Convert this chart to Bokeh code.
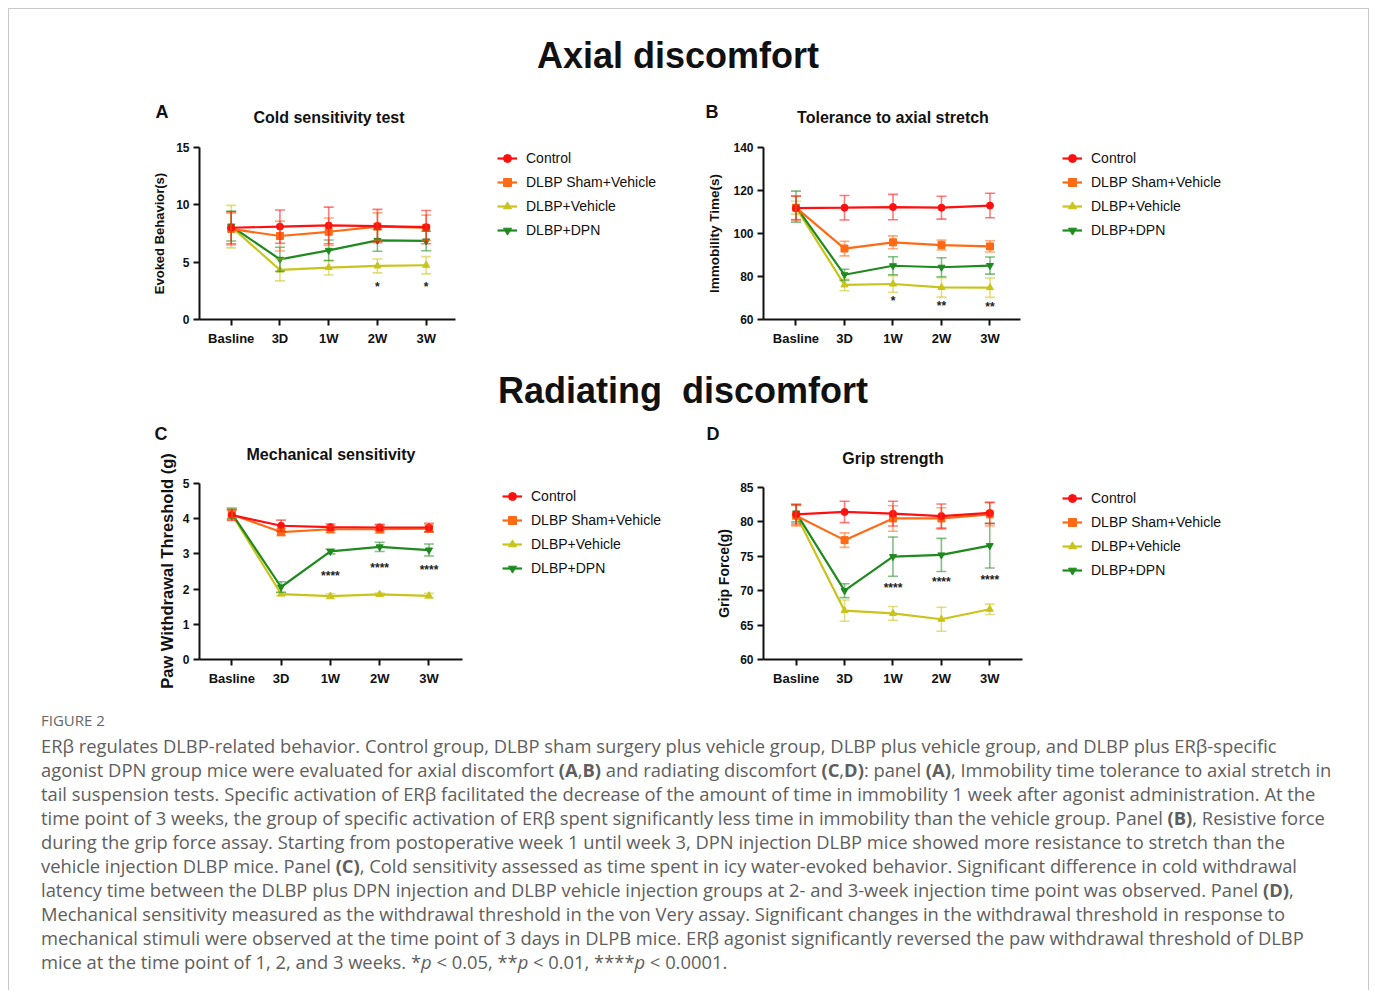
from bokeh.plotting import figure
from bokeh.models import (ColumnDataSource, Range1d, Legend, LegendItem,
                          Whisker, TeeHead, Div, FixedTicker)
from bokeh.layouts import column, row
from bokeh.core.properties import value
from bokeh.embed import file_html
from bokeh.resources import INLINE

# ---------------- data ----------------
timepoints = ["Basline", "3D", "1W", "2W", "3W"]
groups = ["Control", "DLBP Sham+Vehicle", "DLBP+Vehicle", "DLBP+DPN"]

# Panel A: Cold sensitivity test (mean, sem)
a_control = [8.0, 8.1, 8.2, 8.15, 8.05]
a_control_sem = [1.4, 1.45, 1.6, 1.45, 1.45]
a_sham = [7.9, 7.28, 7.65, 8.1, 8.0]
a_sham_sem = [1.4, 1.3, 1.2, 1.2, 1.1]
a_vehicle = [8.1, 4.32, 4.53, 4.67, 4.73]
a_vehicle_sem = [1.85, 0.95, 0.65, 0.6, 0.75]
a_dpn = [8.15, 5.25, 6.03, 6.9, 6.85]
a_dpn_sem = [1.3, 1.05, 0.9, 0.95, 0.85]
a_stars = ["", "", "", "*", "*"]
a_star_y = [0, 0, 0, 2.8, 2.8]

# Panel B: Tolerance to axial stretch
b_control = [111.8, 112.0, 112.3, 112.0, 113.0]
b_control_sem = [5.5, 5.7, 5.9, 5.3, 5.7]
b_sham = [112.0, 93.0, 95.9, 94.6, 94.0]
b_sham_sem = [5.5, 3.4, 3.0, 2.3, 2.6]
b_vehicle = [112.0, 76.1, 76.5, 74.9, 74.8]
b_vehicle_sem = [3.0, 2.7, 3.9, 4.5, 4.5]
b_dpn = [112.5, 80.8, 85.0, 84.3, 85.1]
b_dpn_sem = [7.2, 2.6, 4.2, 4.4, 4.0]
b_stars = ["", "", "*", "**", "**"]
b_star_y = [0, 0, 68.8, 66.3, 65.7]

# Panel C: Mechanical sensitivity
c_control = [4.1, 3.8, 3.76, 3.75, 3.75]
c_control_sem = [0.15, 0.16, 0.09, 0.09, 0.12]
c_sham = [4.12, 3.62, 3.7, 3.7, 3.72]
c_sham_sem = [0.15, 0.1, 0.1, 0.11, 0.1]
c_vehicle = [4.13, 1.86, 1.8, 1.85, 1.81]
c_vehicle_sem = [0.12, 0.04, 0.07, 0.04, 0.07]
c_dpn = [4.15, 2.06, 3.07, 3.2, 3.11]
c_dpn_sem = [0.15, 0.15, 0.07, 0.13, 0.17]
c_stars = ["", "", "****", "****", "****"]
c_star_y = [0, 0, 2.36, 2.6, 2.53]

# Panel D: Grip strength
d_control = [81.1, 81.45, 81.2, 80.85, 81.3]
d_control_sem = [1.4, 1.55, 1.8, 1.75, 1.55]
d_sham = [80.9, 77.35, 80.5, 80.5, 81.1]
d_sham_sem = [1.5, 1.05, 1.85, 1.55, 1.7]
d_vehicle = [81.0, 67.1, 66.7, 65.85, 67.3]
d_vehicle_sem = [1.5, 1.55, 1.0, 1.75, 0.75]
d_dpn = [81.3, 70.0, 74.95, 75.2, 76.55]
d_dpn_sem = [1.3, 1.0, 2.85, 2.4, 3.25]
d_stars = ["", "", "****", "****", "****"]
d_star_y = [0, 0, 70.4, 71.2, 71.6]

# ---------------- styling ----------------
FONT = "Liberation Sans"
colors = ["#ff1010", "#ff6a14", "#c8c41c", "#1f8a1f"]
markers = ["circle", "square", "triangle", "inverted_triangle"]
draw_order = [2, 3, 1, 0]


def make_panel(ylabel, ylabel_size, ylabel_standoff, ylim, yticks, x0, spacing,
               axis_end, series, sems, stars, star_y, width, height, borders,
               legend_x, legend_y):
    left, right, top, bottom = borders
    frame_w = width - left - right
    p = figure(width=width, height=height, output_backend="svg",
               toolbar_location=None,
               x_range=Range1d(x0, x0 + frame_w / spacing),
               y_range=Range1d(*ylim),
               min_border_left=left, min_border_right=right,
               min_border_top=top, min_border_bottom=bottom)
    p.outline_line_color = None
    p.xgrid.visible = False
    p.ygrid.visible = False
    p.background_fill_color = "white"
    p.border_fill_color = "white"

    for ax in (p.xaxis[0], p.yaxis[0]):
        ax.axis_line_width = 2
        ax.major_tick_line_width = 2
        ax.major_tick_out = 6
        ax.major_tick_in = 0
        ax.minor_tick_out = 0
        ax.minor_tick_in = 0
        ax.major_label_text_font = FONT
        ax.major_label_text_font_style = "bold"
        ax.major_label_text_color = "#111111"
        ax.axis_line_color = "#111111"
        ax.major_tick_line_color = "#111111"

    p.xaxis.bounds = (x0, axis_end)
    p.xaxis.ticker = FixedTicker(ticks=list(range(len(timepoints))))
    p.xaxis.major_label_overrides = {i: t for i, t in enumerate(timepoints)}
    p.xaxis.major_label_text_font_size = "13px"
    p.xaxis.major_label_standoff = 5

    p.yaxis.ticker = FixedTicker(ticks=yticks)
    p.yaxis.major_label_text_font_size = "12px"
    p.yaxis.major_label_standoff = 4
    if ylabel:
        p.yaxis.axis_label = ylabel
        p.yaxis.axis_label_text_font = FONT
        p.yaxis.axis_label_text_font_style = "bold"
        p.yaxis.axis_label_text_font_size = ylabel_size
        p.yaxis.axis_label_text_color = "#111111"
        p.yaxis.axis_label_standoff = ylabel_standoff

    xs = list(range(len(timepoints)))
    items = [None] * 4
    for gi in draw_order:
        m = series[gi]
        s = sems[gi]
        src = ColumnDataSource(dict(x=xs, y=m,
                                    lower=[a - b for a, b in zip(m, s)],
                                    upper=[a + b for a, b in zip(m, s)]))
        c = colors[gi]
        w = Whisker(source=src, base="x", upper="upper", lower="lower",
                    line_color=c, line_alpha=0.55, line_width=1.6, level="glyph",
                    upper_head=TeeHead(size=10, line_color=c, line_alpha=0.55, line_width=1.6),
                    lower_head=TeeHead(size=10, line_color=c, line_alpha=0.55, line_width=1.6))
        p.add_layout(w)
        lr = p.line("x", "y", source=src, line_color=c, line_width=2.2)
        sr = p.scatter("x", "y", source=src, marker=markers[gi], size=7,
                       fill_color=c, line_color=c)
        items[gi] = LegendItem(label=groups[gi], renderers=[lr, sr])

    st = ColumnDataSource(dict(x=[i for i, t in enumerate(stars) if t],
                               y=[star_y[i] for i, t in enumerate(stars) if t],
                               t=[t for t in stars if t]))
    p.text("x", "y", text="t", source=st, text_font=value(FONT),
           text_font_style="bold", text_font_size="12px", text_color="#222222",
           text_align="center", text_baseline="middle")

    legend = Legend(items=items, location=(legend_x, legend_y),
                    padding=0, margin=0, spacing=4, glyph_width=20, glyph_height=20,
                    label_height=20, label_standoff=9, border_line_alpha=0,
                    background_fill_alpha=0, label_text_font=FONT,
                    label_text_font_size="14px", label_text_color="#111111")
    p.add_layout(legend, "center")
    return p


pa = make_panel("Evoked Behavior(s)", "13px", 6, (0, 15), [0, 5, 10, 15],
                -0.65, 48.75, 4.60,
                [a_control, a_sham, a_vehicle, a_dpn],
                [a_control_sem, a_sham_sem, a_vehicle_sem, a_dpn_sem],
                a_stars, a_star_y, 680, 220, (190, 5, 12, 36), 298, 79)
pb = make_panel("Immobility Time(s)", "13.5px", 8, (60, 140), [60, 80, 100, 120, 140],
                -0.67, 48.5, 4.63,
                [b_control, b_sham, b_vehicle, b_dpn],
                [b_control_sem, b_sham_sem, b_vehicle_sem, b_dpn_sem],
                b_stars, b_star_y, 679, 220, (74, 5, 12, 36), 299, 79)
# panel C: its long y-axis title is set beside the figure (see cleft below)
pc = make_panel(None, None, 0, (0, 5), [0, 1, 2, 3, 4, 5],
                -0.655, 49.3, 4.68,
                [c_control, c_sham, c_vehicle, c_dpn],
                [c_control_sem, c_sham_sem, c_vehicle_sem, c_dpn_sem],
                c_stars, c_star_y, 513, 230, (23, 5, 13, 41), 303, 81)
pd = make_panel("Grip Force(g)", "14px", 5, (60, 85), [60, 65, 70, 75, 80, 85],
                -0.675, 48.4, 4.675,
                [d_control, d_sham, d_vehicle, d_dpn],
                [d_control_sem, d_sham_sem, d_vehicle_sem, d_dpn_sem],
                d_stars, d_star_y, 679, 230, (74, 5, 17, 41), 299, 79)


def txt(x, y, s, size, rotate=False):
    tr = "translate(-50%,-50%)" + (" rotate(-90deg)" if rotate else "")
    return ("<div style=\"position:absolute;left:%spx;top:%spx;transform:%s;"
            "white-space:pre;font-family:'Liberation Sans';font-weight:bold;font-size:%spx;"
            "line-height:1.15;color:#111111\">%s</div>" % (x, y, tr, size, s))


def header(w, h, parts):
    return Div(width=w, height=h, margin=(0, 0, 0, 0),
               text=("<div style=\"position:relative;width:%dpx;height:%dpx\">" % (w, h))
               + "".join(txt(*pt) for pt in parts) + "</div>")


head1 = header(1359, 126, [(669, 47, "Axial discomfort", 36),
                           (153, 103, "A", 18), (320, 109, "Cold sensitivity test", 16),
                           (703, 103, "B", 18), (884, 109, "Tolerance to axial stretch", 16)])
head2 = header(1359, 57, [(674, 36, "Radiating  discomfort", 36)])
cleft = header(167, 288, [(152, 22, "C", 18),
                          (157.5, 159, "Paw Withdrawal Threshold (g)", 16.5, True)])
chead = header(513, 58, [(155, 43, "Mechanical sensitivity", 16)])
dhead = header(679, 58, [(24, 22, "D", 18), (204, 47, "Grip strength", 16)])

caption_lines = [
    "ER\u03b2 regulates DLBP-related behavior. Control group, DLBP sham surgery plus vehicle group, DLBP plus vehicle group, and DLBP plus ER\u03b2-specific",
    "agonist DPN group mice were evaluated for axial discomfort <b>(A</b>,<b>B)</b> and radiating discomfort <b>(C</b>,<b>D)</b>: panel <b>(A)</b>, Immobility time tolerance to axial stretch in",
    "tail suspension tests. Specific activation of ER\u03b2 facilitated the decrease of the amount of time in immobility 1 week after agonist administration. At the",
    "time point of 3 weeks, the group of specific activation of ER\u03b2 spent significantly less time in immobility than the vehicle group. Panel <b>(B)</b>, Resistive force",
    "during the grip force assay. Starting from postoperative week 1 until week 3, DPN injection DLBP mice showed more resistance to stretch than the",
    "vehicle injection DLBP mice. Panel <b>(C)</b>, Cold sensitivity assessed as time spent in icy water-evoked behavior. Significant difference in cold withdrawal",
    "latency time between the DLBP plus DPN injection and DLBP vehicle injection groups at 2- and 3-week injection time point was observed. Panel <b>(D)</b>,",
    "Mechanical sensitivity measured as the withdrawal threshold in the von Very assay. Significant changes in the withdrawal threshold in response to",
    "mechanical stimuli were observed at the time point of 3 days in DLPB mice. ER\u03b2 agonist significantly reversed the paw withdrawal threshold of DLBP",
    "mice at the time point of 1, 2, and 3 weeks. *<i>p</i> &lt; 0.05, **<i>p</i> &lt; 0.01, ****<i>p</i> &lt; 0.0001.",
]
cap_html = (
    "<div style=\"padding-left:32px;padding-top:10px;font-family:'Open Sans';color:#5e5e5e;\">"
    "<div style=\"font-size:15px;line-height:20px;color:#666666;\">FIGURE 2</div>"
    "<div style=\"margin-top:4px;font-size:18.35px;line-height:24px;\">"
    + "".join("<div style=\"white-space:nowrap\">%s</div>" % l for l in caption_lines)
    + "</div></div>")
caption = Div(width=1359, height=290, margin=(0, 0, 0, 0), text=cap_html)

root = column(head1, row(pa, pb), head2,
              row(cleft, column(chead, pc), column(dhead, pd)),
              caption,
              margin=(8, 0, 0, 8),
              styles={"border-top": "1px solid #c8c8c8", "border-left": "1px solid #c8c8c8",
                      "border-right": "1px solid #c8c8c8"})

open("out.html", "w").write(file_html(root, INLINE))
